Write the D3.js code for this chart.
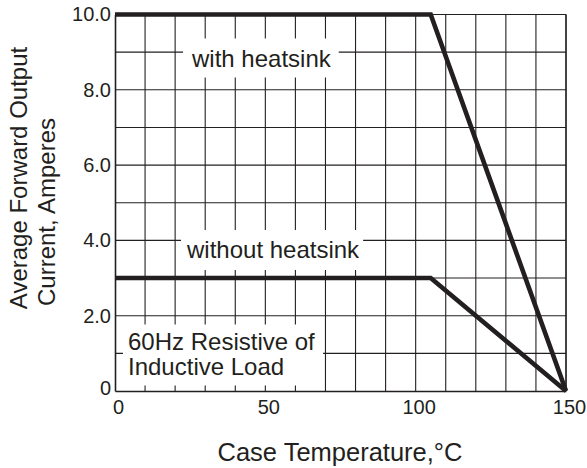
<!DOCTYPE html>
<html><head><meta charset="utf-8">
<script src="https://cdn.jsdelivr.net/npm/d3@7/dist/d3.min.js"></script>
<style>
body{margin:0;background:#fff}
text{font-family:"Liberation Sans",Arial,Helvetica,sans-serif;fill:#231f20}
</style>
</head><body>
<svg id="c" width="587" height="468"></svg>
<script>
// ---- data ----
const xTickValues = [0, 50, 100, 150];
const xTickLabels = ["0", "50", "100", "150"];
const yTickValues = [0, 2, 4, 6, 8, 10];
const yTickLabels = ["0", "2.0", "4.0", "6.0", "8.0", "10.0"];
const xGridValues = [10, 20, 30, 40, 50, 60, 70, 80, 90, 100, 110, 120, 130, 140, 150];
const yGridValues = [1, 2, 3, 4, 5, 6, 7, 8, 9, 10];
const withHeatsinkTemp = [0, 105, 150];
const withHeatsinkCurrent = [10, 10, 0];
const withoutHeatsinkTemp = [0, 105, 150];
const withoutHeatsinkCurrent = [3, 3, 0];
const xTitle = "Case Temperature,°C";
const yTitleLines = ["Average Forward Output", "Current, Amperes"];

// ---- layout ----
const ink = "#231f20";
const svg = d3.select("#c");
svg.append("rect").attr("width", 587).attr("height", 468).attr("fill", "#fff");
const x = d3.scaleLinear().domain([0, 150]).range([115, 566]);
const y = d3.scaleLinear().domain([0, 10]).range([391, 14.5]);

// grid
const grid = svg.append("g").attr("stroke", ink).attr("stroke-width", 1.1);
grid.selectAll("line.v").data(xGridValues).join("line")
  .attr("x1", d => x(d)).attr("x2", d => x(d))
  .attr("y1", y(0)).attr("y2", y(10));
grid.selectAll("line.h").data(yGridValues).join("line")
  .attr("y1", d => y(d)).attr("y2", d => y(d))
  .attr("x1", x(0)).attr("x2", x(150));

// annotation labels with white boxes
const ann = svg.append("g").attr("font-size", 24);
function boxLabel(lines, tx, ty0, lh, pad) {
  const g = ann.append("g");
  const r = g.append("rect").attr("fill", "#fff");
  let x0 = Infinity, y0 = Infinity, x1 = -Infinity, y1 = -Infinity;
  lines.forEach((s, i) => {
    const t = g.append("text").attr("x", tx).attr("y", ty0 + i * lh).text(s);
    const b = t.node().getBBox();
    x0 = Math.min(x0, b.x); y0 = Math.min(y0, b.y);
    x1 = Math.max(x1, b.x + b.width); y1 = Math.max(y1, b.y + b.height);
  });
  r.attr("x", x0 - pad[3]).attr("y", y0 - pad[0])
   .attr("width", x1 - x0 + pad[1] + pad[3]).attr("height", y1 - y0 + pad[0] + pad[2]);
}
boxLabel(["with heatsink"], 192, 66.5, 0, [6, 7, 6, 8]);
boxLabel(["without heatsink"], 187, 258, 0, [6, 3, 7, 5]);
boxLabel(["60Hz Resistive of", "Inductive Load"], 128, 349.5, 25, [3, 8, 6, 5]);

// axes
const xAxis = d3.axisBottom(x).tickValues(xTickValues)
  .tickFormat((d, i) => xTickLabels[i]).tickSize(0).tickPadding(9);
const gx = svg.append("g").attr("transform", `translate(0,${y(0)})`).call(xAxis);
gx.select(".domain").attr("stroke", ink).attr("stroke-width", 1.6);
gx.selectAll("text").attr("font-size", 20).attr("dx", 3)
  .attr("font-family", '"Liberation Sans",Arial,sans-serif').attr("fill", ink);

const yAxis = d3.axisLeft(y).tickValues(yTickValues)
  .tickFormat((d, i) => yTickLabels[i]).tickSize(0).tickPadding(4);
const gy = svg.append("g").attr("transform", `translate(${x(0)},0)`).call(yAxis);
gy.select(".domain").attr("stroke", ink).attr("stroke-width", 1.6);
gy.selectAll("text").attr("font-size", 20)
  .attr("font-family", '"Liberation Sans",Arial,sans-serif').attr("fill", ink)
  .attr("dy", (d) => d === 0 ? "0.15em" : "0.32em");

// right border
svg.append("line").attr("x1", x(150)).attr("x2", x(150)).attr("y1", y(0)).attr("y2", y(10))
  .attr("stroke", ink).attr("stroke-width", 1.3);

// curves
const line = d3.line().x(d => x(d[0])).y(d => y(d[1]));
const curves = [
  d3.zip(withHeatsinkTemp, withHeatsinkCurrent),
  d3.zip(withoutHeatsinkTemp, withoutHeatsinkCurrent)
];
svg.append("g").selectAll("path").data(curves).join("path")
  .attr("d", line).attr("fill", "none").attr("stroke", ink)
  .attr("stroke-width", 4.6).attr("stroke-linejoin", "miter").attr("stroke-miterlimit", 10);

// titles
svg.append("text").attr("x", 340).attr("y", 461).attr("text-anchor", "middle")
  .attr("font-size", 25.5).text(xTitle);
svg.append("text").attr("transform", "translate(27,178) rotate(-90)")
  .attr("text-anchor", "middle").attr("font-size", 24).text(yTitleLines[0]);
svg.append("text").attr("transform", "translate(55,212) rotate(-90)")
  .attr("text-anchor", "middle").attr("font-size", 24).text(yTitleLines[1]);
</script>
</body></html>
